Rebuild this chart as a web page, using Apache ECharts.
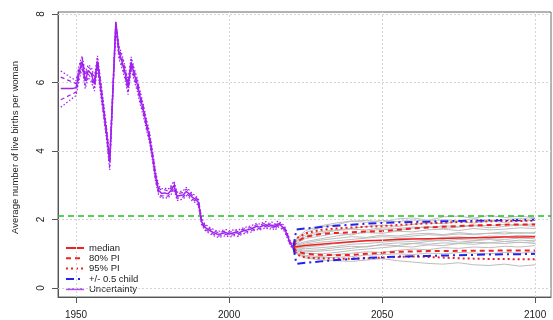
<!DOCTYPE html>
<html><head><meta charset="utf-8">
<script src="https://cdn.jsdelivr.net/npm/echarts@6/dist/echarts.min.js"></script>
<style>html,body{margin:0;padding:0;background:#fff}#c{width:553px;height:320px}</style>
</head><body><div id="c"></div>
<script>
// ---------- DATA ----------
const xTicks = [1950, 2000, 2050, 2100];
const yTicks = [0, 2, 4, 6, 8];
const replacementLevel = 2.1;

const histYears = [];
for (let y = 1945; y <= 2021; y++) histYears.push(y);
const histMedian = [5.83,5.83,5.83,5.83,5.83,5.85,6.30,6.62,6.05,6.35,6.25,5.95,6.62,5.90,5.20,4.50,3.68,5.70,7.75,6.90,6.62,6.30,5.85,6.60,6.25,5.95,5.55,5.20,4.78,4.40,3.85,3.25,2.85,2.76,2.78,2.75,2.85,3.00,2.68,2.70,2.72,2.82,2.75,2.65,2.60,2.50,1.95,1.78,1.72,1.66,1.62,1.58,1.57,1.60,1.62,1.58,1.60,1.62,1.60,1.65,1.68,1.70,1.72,1.76,1.80,1.78,1.82,1.85,1.80,1.84,1.78,1.88,1.82,1.75,1.55,1.30,1.20];
const histHi95 = [6.34,null,null,null,null,6.05,6.50,6.78,6.30,6.52,6.45,6.15,6.78,6.10,5.40,4.68,3.85,5.85,7.80,7.08,6.82,6.48,6.05,6.75,6.42,6.12,5.72,5.36,4.93,4.56,4.00,3.40,2.98,2.90,2.92,2.88,2.98,3.12,2.80,2.82,2.84,2.94,2.86,2.76,2.70,2.60,2.05,1.88,1.81,1.75,1.71,1.67,1.66,1.69,1.71,1.67,1.69,1.71,1.69,1.74,1.77,1.79,1.81,1.85,1.89,1.87,1.91,1.94,1.89,1.93,1.87,1.96,1.90,1.83,1.63,1.37,1.26];
const histLo95 = [5.28,null,null,null,null,5.62,6.08,6.42,5.82,6.15,6.02,5.75,6.42,5.68,5.00,4.30,3.45,5.50,7.60,6.70,6.42,6.10,5.65,6.40,6.05,5.75,5.35,5.02,4.62,4.25,3.70,3.10,2.70,2.62,2.65,2.62,2.72,2.88,2.56,2.58,2.60,2.70,2.64,2.54,2.50,2.40,1.86,1.69,1.63,1.57,1.53,1.49,1.48,1.51,1.53,1.49,1.51,1.53,1.51,1.56,1.59,1.61,1.63,1.67,1.71,1.69,1.73,1.76,1.71,1.75,1.69,1.79,1.74,1.67,1.47,1.23,1.14];
const histHi80 = [6.16,null,null,null,null,5.97,6.42,6.72,6.20,6.45,6.37,6.07,6.72,6.02,5.32,4.60,3.76,5.78,7.78,7.00,6.74,6.40,5.97,6.69,6.35,6.05,5.64,5.29,4.86,4.49,3.94,3.34,2.93,2.85,2.87,2.83,2.93,3.07,2.75,2.77,2.79,2.89,2.81,2.71,2.66,2.56,2.01,1.84,1.77,1.71,1.67,1.63,1.62,1.65,1.67,1.63,1.65,1.67,1.65,1.70,1.73,1.75,1.77,1.81,1.85,1.83,1.87,1.90,1.85,1.89,1.83,1.92,1.86,1.79,1.59,1.34,1.23];
const histLo80 = [5.50,null,null,null,null,5.72,6.18,6.52,5.92,6.25,6.12,5.84,6.52,5.78,5.09,4.40,3.55,5.60,7.68,6.80,6.52,6.20,5.74,6.50,6.15,5.85,5.45,5.11,4.70,4.32,3.77,3.16,2.76,2.68,2.71,2.68,2.78,2.93,2.62,2.64,2.66,2.76,2.69,2.59,2.55,2.45,1.90,1.73,1.67,1.61,1.57,1.53,1.52,1.55,1.57,1.53,1.55,1.57,1.55,1.60,1.63,1.65,1.67,1.71,1.75,1.73,1.77,1.80,1.75,1.79,1.73,1.83,1.78,1.71,1.51,1.26,1.17];

const projYears = [2021,2022,2025,2030,2035,2040,2045,2050,2055,2060,2065,2070,2075,2080,2085,2090,2095,2100];
const projMedian = [1.20,1.21,1.24,1.28,1.32,1.35,1.38,1.40,1.42,1.43,1.44,1.45,1.46,1.47,1.48,1.49,1.49,1.50];
const projHi80   = [1.20,1.34,1.50,1.58,1.61,1.63,1.65,1.66,1.70,1.74,1.77,1.79,1.81,1.83,1.84,1.85,1.86,1.86];
const projLo80   = [1.20,1.08,1.00,0.97,0.96,0.97,1.00,1.03,1.06,1.07,1.08,1.08,1.09,1.09,1.09,1.10,1.10,1.10];
const projHi95   = [1.20,1.45,1.60,1.70,1.74,1.77,1.79,1.81,1.84,1.87,1.89,1.91,1.93,1.94,1.95,1.96,1.96,1.97];
const projLo95   = [1.20,0.98,0.89,0.87,0.86,0.86,0.87,0.89,0.91,0.92,0.91,0.89,0.87,0.86,0.85,0.85,0.84,0.84];
const projHiHalf = [1.20,1.71,1.74,1.78,1.82,1.85,1.88,1.90,1.92,1.93,1.94,1.95,1.96,1.97,1.98,1.99,1.99,2.00];
const projLoHalf = [1.20,0.71,0.74,0.78,0.82,0.85,0.88,0.90,0.92,0.93,0.94,0.95,0.96,0.97,0.98,0.99,0.99,1.00];

const traj01 = [1.2,1.42,1.62,1.78,1.85,1.95,1.98,1.92,2.02,2.05,1.98,2.08,2.10,2.04,2.12,2.06,2.10,2.05];
const traj02 = [1.2,1.00,0.88,0.82,0.80,0.78,0.82,0.86,0.80,0.76,0.72,0.70,0.74,0.68,0.66,0.70,0.64,0.68];
const traj03 = [1.2,1.30,1.45,1.52,1.60,1.55,1.66,1.72,1.68,1.75,1.80,1.74,1.78,1.82,1.76,1.80,1.84,1.80];
const traj04 = [1.2,1.15,1.10,1.12,1.18,1.22,1.20,1.28,1.32,1.30,1.36,1.40,1.34,1.38,1.42,1.36,1.40,1.38];
const traj05 = [1.2,1.25,1.32,1.40,1.45,1.50,1.48,1.55,1.52,1.58,1.60,1.56,1.62,1.58,1.60,1.64,1.60,1.62];
const traj06 = [1.2,1.05,0.95,0.92,0.98,1.02,1.06,1.04,1.10,1.14,1.12,1.18,1.16,1.20,1.18,1.22,1.20,1.24];
const traj07 = [1.2,1.38,1.55,1.65,1.70,1.74,1.80,1.84,1.80,1.86,1.90,1.88,1.94,1.90,1.96,1.92,1.95,1.98];
const traj08 = [1.2,1.18,1.20,1.24,1.30,1.34,1.40,1.38,1.44,1.46,1.42,1.48,1.50,1.46,1.52,1.50,1.54,1.52];
const traj09 = [1.2,1.08,1.02,1.00,1.04,1.10,1.14,1.18,1.22,1.20,1.26,1.24,1.30,1.28,1.32,1.30,1.34,1.30];
const traj10 = [1.2,1.28,1.36,1.44,1.52,1.58,1.62,1.60,1.66,1.64,1.70,1.72,1.68,1.74,1.70,1.72,1.76,1.74];
const traj11 = [1.2,1.12,1.06,1.08,1.12,1.16,1.22,1.26,1.24,1.30,1.28,1.32,1.30,1.34,1.32,1.36,1.33,1.35];
const traj12 = [1.2,1.22,1.28,1.34,1.38,1.42,1.46,1.50,1.48,1.52,1.56,1.54,1.58,1.56,1.60,1.58,1.62,1.60];
const traj13 = [1.2,1.02,0.92,0.88,0.90,0.92,0.96,0.98,1.00,0.98,1.02,1.00,1.04,1.02,1.00,1.04,1.02,1.06];
const traj14 = [1.2,1.35,1.50,1.60,1.68,1.72,1.70,1.76,1.74,1.78,1.76,1.82,1.80,1.84,1.82,1.86,1.84,1.88];
const traj15 = [1.2,1.18,1.15,1.18,1.22,1.28,1.30,1.34,1.38,1.36,1.40,1.38,1.42,1.40,1.44,1.42,1.46,1.44];
const traj16 = [1.2,1.45,1.68,1.82,1.90,1.96,1.92,1.98,1.94,1.99,1.95,2.00,1.96,2.02,1.98,2.00,2.03,2.00];
const trajectories = [traj01,traj02,traj03,traj04,traj05,traj06,traj07,traj08,traj09,traj10,traj11,traj12,traj13,traj14,traj15,traj16];

// ---------- CHART ----------
const pairs = (xs, ys) => xs.map((x, i) => [x, ys[i]]);
const RED = '#f02020', BLUE = '#2222ee', PURPLE = '#a020f0', GREEN = '#22c022', GRAY = '#bdbdbd';
const FONT = 'Liberation Sans, Arial, Helvetica, sans-serif';

function line(name, xs, ys, color, width, type, z) {
  return { name, type: 'line', data: pairs(xs, ys), showSymbol: false, symbol: 'none',
    connectNulls: true, silent: true, animation: false, z: z,
    lineStyle: { color, width, type }, itemStyle: { color } };
}
function band(stackId, lo, hi, color) {
  return [
    { type: 'line', data: pairs(projYears, lo), stack: stackId, symbol: 'none', showSymbol: false,
      lineStyle: { opacity: 0 }, silent: true, animation: false, z: 1 },
    { type: 'line', data: pairs(projYears, hi.map((v, i) => v - lo[i])), stack: stackId, symbol: 'none', showSymbol: false,
      lineStyle: { opacity: 0 }, areaStyle: { color: color, opacity: 1 }, silent: true, animation: false, z: 1 }
  ];
}

const series = [];
// grid lines
series.push({
  type: 'line', data: [], silent: true, animation: false, z: 0,
  markLine: { silent: true, symbol: 'none', label: { show: false },
    lineStyle: { color: '#d4d4d4', width: 1, type: [2, 2] },
    data: xTicks.map(v => ({ xAxis: v })).concat(yTicks.map(v => ({ yAxis: v }))) }
});
// trajectory cloud (shading between the interval bounds)
band('b95', projLo95, projHi95, '#e3e3e3').forEach(s => series.push(s));
band('b80', projLo80, projHi80, '#d5d5d5').forEach(s => series.push(s));
trajectories.forEach(t => series.push(line('traj', projYears, t, GRAY, 1, 'solid', 2)));
series.push(line('80% PI', projYears, projHi80, RED, 2, [5, 4], 3));
series.push(line('80% PI', projYears, projLo80, RED, 2, [5, 4], 3));
series.push(line('95% PI', projYears, projHi95, RED, 2, [2, 3], 3));
series.push(line('95% PI', projYears, projLo95, RED, 2, [2, 3], 3));
series.push(line('+/- 0.5 child', projYears, projHiHalf, BLUE, 2, [8, 4, 2, 4], 3));
series.push(line('+/- 0.5 child', projYears, projLoHalf, BLUE, 2, [8, 4, 2, 4], 3));
series.push(line('median', projYears, projMedian, RED, 1.5, 'solid', 4));
series.push(line('hist80', histYears, histHi80, PURPLE, 1.2, [4, 3], 5));
series.push(line('hist80', histYears, histLo80, PURPLE, 1.2, [4, 3], 5));
series.push(line('hist95', histYears, histHi95, PURPLE, 1.2, [1.5, 2], 5));
series.push(line('hist95', histYears, histLo95, PURPLE, 1.2, [1.5, 2], 5));
series.push(line('Uncertainty', histYears, histMedian, PURPLE, 1.5, 'solid', 5));
series.push({
  type: 'line', data: [], silent: true, animation: false, z: 6,
  markLine: { silent: true, symbol: 'none', label: { show: false },
    lineStyle: { color: GREEN, width: 1.5, type: [6, 4] },
    data: [{ yAxis: replacementLevel }] }
});

const option = {
  animation: false,
  backgroundColor: '#fff',
  textStyle: { fontFamily: FONT },
  grid: { left: 58, right: 2, top: 12, bottom: 23, show: true, borderColor: '#666', borderWidth: 1, containLabel: false },
  legend: {
    orient: 'vertical', left: 60, top: 238, itemWidth: 18, itemHeight: 8, itemGap: 0.3,
    data: [
      { name: 'median', lineStyle: { type: 'solid', width: 2, color: RED } },
      { name: '80% PI', lineStyle: { type: [5, 4], width: 2, color: RED } },
      { name: '95% PI', lineStyle: { type: [2, 3], width: 2, color: RED } },
      { name: '+/- 0.5 child', lineStyle: { type: [8, 4, 2, 4], width: 2, color: BLUE } },
      { name: 'Uncertainty', lineStyle: { type: 'solid', width: 2, color: '#b44cf5' } }
    ],
    itemStyle: { opacity: 0 },
    textStyle: { fontSize: 9.5, color: '#222', fontFamily: FONT, lineHeight: 10 },
    selectedMode: false
  },
  xAxis: {
    type: 'value', min: 1944.1, max: 2105.2,
    axisLine: { show: true, onZero: false, lineStyle: { color: '#555' } },
    axisTick: { show: true, length: 6, customValues: xTicks, lineStyle: { color: '#555' } },
    axisLabel: { customValues: xTicks, fontSize: 10, color: '#222', margin: 13, fontFamily: FONT, formatter: v => String(v) },
    splitLine: { show: false }
  },
  yAxis: {
    type: 'value', min: -0.26, max: 8.06,
    name: 'Average number of live births per woman', nameLocation: 'middle', nameGap: 38,
    nameTextStyle: { fontSize: 9.5, color: '#222', fontFamily: FONT, padding: [0, 0, 0, 14] },
    axisLine: { show: true, onZero: false, lineStyle: { color: '#555' } },
    axisTick: { show: true, length: 6, customValues: yTicks, lineStyle: { color: '#555' } },
    axisLabel: { customValues: yTicks, fontSize: 10, color: '#222', rotate: 90, margin: 12, fontFamily: FONT, formatter: v => String(v) },
    splitLine: { show: false }
  },
  series
};
const chart = echarts.init(document.getElementById('c'), null, { renderer: 'canvas' });
chart.setOption(option);
</script></body></html>
